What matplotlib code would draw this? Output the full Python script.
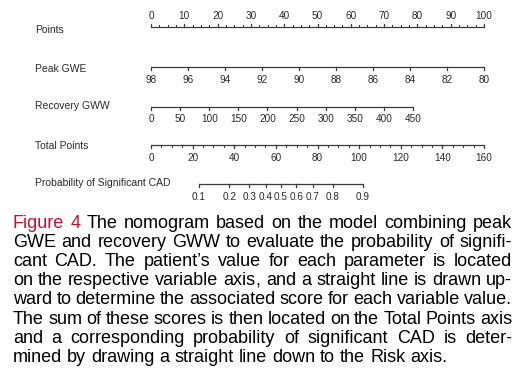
import matplotlib.pyplot as plt
import numpy as np

plt.rcParams['font.family'] = ['Liberation Sans', 'DejaVu Sans']

# nomogram scales
points_ticks = np.arange(0, 101, 10)
peak_gwe = [98, 96, 94, 92, 90, 88, 86, 84, 82, 80]
recovery_gww = [0, 50, 100, 150, 200, 250, 300, 350, 400, 450]
total_points = [0, 20, 40, 60, 80, 100, 120, 140, 160]
prob_ticks = [0.1, 0.2, 0.3, 0.4, 0.5, 0.6, 0.7, 0.8, 0.9]
prob_labels = ['0.1', '0.2', '0.3', '0.4', '0.5', '0.6', '0.7', '0.8', '0.9']

row_names = ['Points', 'Peak GWE', 'Recovery GWW', 'Total Points',
             'Probability of Significant CAD']

# model: points contributed by each variable
rec_max_points = 78.7          # points for recovery GWW = 450
logit_slope = 0.05576          # per total point
logit_center = 62.5            # total points at p = 0.5


def peak_to_pts(v):
    return (98 - np.asarray(v, float)) / 18 * 100


def rec_to_pts(v):
    return np.asarray(v, float) / 450 * rec_max_points


def total_to_pts(v):
    return np.asarray(v, float) * 100 / 160


def prob_to_pts(p):
    p = np.asarray(p, float)
    tp = logit_center + np.log(p / (1 - p)) / logit_slope
    return total_to_pts(tp)


W, H = 519, 376
fig = plt.figure(figsize=(W / 100, H / 100), dpi=100)
top_h = 210
ax = fig.add_axes([151 / W, 1 - top_h / H, 333 / W, top_h / H])
ax.set_xlim(0, 100)
ax.set_ylim(top_h, 0)
ax.axis('off')

lc = '#3a3a3a'
tc = '#2a2a2a'
lw = 0.9


def draw_axis(y, pos, labels, minor=None, up=False, lab_y=None):
    ax.plot([pos[0], pos[-1]], [y, y], color=lc, lw=lw, solid_capstyle='butt', clip_on=False)
    d = -1 if up else 1
    for p in pos:
        ax.plot([p, p], [y, y + d * 3], color=lc, lw=lw, clip_on=False)
    if minor is not None:
        for p in minor:
            ax.plot([p, p], [y, y + d * 1.8], color=lc, lw=lw * 0.8, clip_on=False)
    for p, s in zip(pos, labels):
        ax.text(p, lab_y, s, ha='center', va='center', fontsize=7.2, color=tc, clip_on=False)


# Points
draw_axis(27, points_ticks, [str(v) for v in points_ticks],
          minor=np.arange(0, 100.1, 2.5), up=True, lab_y=16)
# Peak GWE
draw_axis(67, peak_to_pts(peak_gwe), [str(v) for v in peak_gwe], lab_y=80)
# Recovery GWW
draw_axis(107, rec_to_pts(recovery_gww), [str(v) for v in recovery_gww], lab_y=118.5)
# Total Points
draw_axis(145, total_to_pts(total_points), [str(v) for v in total_points],
          minor=total_to_pts(np.arange(0, 161, 5)), lab_y=158)
# Probability
draw_axis(184, prob_to_pts(prob_ticks), prob_labels, lab_y=197)

row_y = [30, 69, 106, 146, 183]
for name, y in zip(row_names, row_y):
    fig.text(35 / W, 1 - y / H, name, ha='left', va='center', fontsize=7.5, color=tc)

# caption, justified word by word
caption = [
    "Figure 4 The nomogram based on the model combining peak",
    "GWE and recovery GWW to evaluate the probability of signifi-",
    "cant CAD. The patient\u2019s value for each parameter is located",
    "on the respective variable axis, and a straight line is drawn up-",
    "ward to determine the associated score for each variable value.",
    "The sum of these scores is then located on the Total Points axis",
    "and a corresponding probability of significant CAD is deter-",
    "mined by drawing a straight line down to the Risk axis.",
]
left, right = 13, 512
base0, step = 228, 19.1
fs = 12.95
red = '#c8102e'

fig.canvas.draw()
r = fig.canvas.get_renderer()

for i, line in enumerate(caption):
    words = line.split(' ')
    yb = 1 - round(base0 + i * step) / H
    groups = []
    for j, w in enumerate(words):
        col = red if (i == 0 and j < 2) else 'black'
        # a trailing comma goes in its own text so the word keeps the baseline
        parts = [w[:-1], ','] if (w.endswith(',') and len(w) > 1) else [w]
        objs = [fig.text(0, yb, p, ha='left', va='baseline', fontsize=fs, color=col)
                for p in parts]
        groups.append(objs)
    widths = [[t.get_window_extent(r).width for t in g] for g in groups]
    total = sum(sum(w) for w in widths)
    if i < len(caption) - 1:
        gap = (right - left - total) / (len(words) - 1)
    else:
        sp = fig.text(0, 0, 'a a', fontsize=fs)
        sp2 = fig.text(0, 0, 'aa', fontsize=fs)
        gap = sp.get_window_extent(r).width - sp2.get_window_extent(r).width
        sp.remove()
        sp2.remove()
    x = left
    for g, ws in zip(groups, widths):
        for t, w in zip(g, ws):
            t.set_x(x / W)
            x += w
        x += gap

fig.savefig('out.png', dpi=100)
